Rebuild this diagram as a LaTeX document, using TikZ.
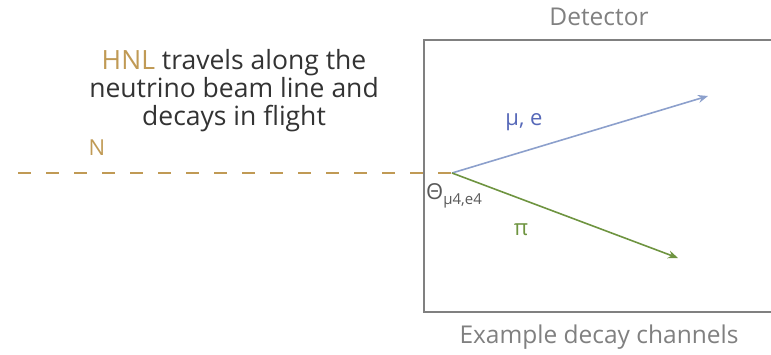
\documentclass[tikz,border=0pt]{standalone}
\usepackage{fontspec}
\setmainfont{Open Sans}
\usetikzlibrary{arrows.meta}
\definecolor{hnlgold}{HTML}{C09A55}
\definecolor{mublue}{HTML}{5668B8}
\definecolor{mulight}{HTML}{8CA0CC}
\definecolor{pigreen}{HTML}{6E9440}
\definecolor{detgray}{HTML}{808080}
\begin{document}
\begin{tikzpicture}[
  x=1pt, y=-1pt,
  txt/.style={font=\fontsize{26.5}{28}\selectfont, text=black!80, align=center},
  captxt/.style={font=\fontsize{24.5}{26}\selectfont, text=detgray},
  lab/.style={font=\fontsize{22}{24}\selectfont},
  beam/.style={hnlgold, line width=1.8pt, dash pattern=on 13pt off 15pt},
  trk/.style={-{Stealth[length=10pt,width=8pt]}, line width=1.6pt},
]
  \useasboundingbox (0,0) rectangle (771,354);

  % Detector box (open to the right)
  \draw[detgray, line width=1.8pt] (771,40) -- (424,40) -- (424,312) -- (771,312);
  \node[captxt] (dettitle) at (599,17) {Detector};
  \node[captxt] (detcap) at (599,337) {Example decay channels};

  % HNL text
  \node[txt] (hnltext) at (234,91) {\textcolor{hnlgold}{HNL} travels along the\\neutrino beam line and\\decays in flight};
  \node[lab, hnlgold] (nlab) at (97,148) {N};

  % Beam line and decay vertex
  \coordinate (beamstart) at (18,173);
  \coordinate (vtx) at (452,173);
  \coordinate (muend) at (708,96);
  \coordinate (piend) at (678,258);
  \draw[beam] (beamstart) -- (vtx);

  % Decay products
  \draw[trk, mulight] (vtx) -- (muend);
  \draw[trk, pigreen] (vtx) -- (piend);
  \node[lab, mublue] (mulab) at (524,122) {μ, e};
  \node[lab, pigreen] (pilab) at (521,230) {π};
  \node[lab, text=black!65, anchor=west, inner sep=0pt] (thlab) at (426,196) {Θ\raisebox{-0.45ex}{\fontsize{15}{16}\selectfont μ4,e4}};
\end{tikzpicture}
\end{document}
